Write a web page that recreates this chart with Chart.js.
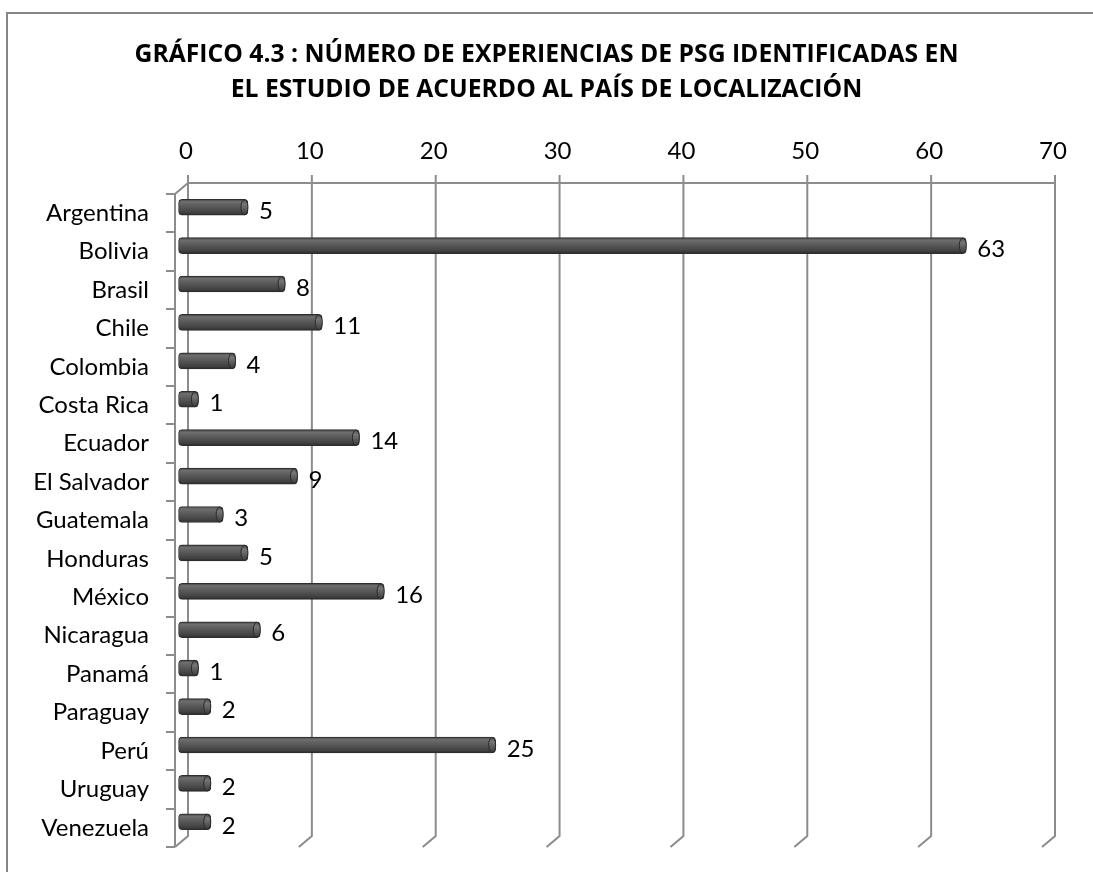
<!DOCTYPE html>
<html>
<head>
<meta charset="utf-8">
<script src="https://cdn.jsdelivr.net/npm/chart.js@4.4.1/dist/chart.umd.min.js"></script>
<style>
  html, body { margin: 0; padding: 0; background: #ffffff; }
  #wrap { width: 1093px; height: 872px; }
</style>
</head>
<body>
<div id="wrap"><canvas id="c" width="1093" height="872"></canvas></div>
<script>
// ---- data ----
const categories = ['Argentina', 'Bolivia', 'Brasil', 'Chile', 'Colombia', 'Costa Rica', 'Ecuador',
  'El Salvador', 'Guatemala', 'Honduras', 'México', 'Nicaragua', 'Panamá', 'Paraguay', 'Perú',
  'Uruguay', 'Venezuela'];
const experiencias = [5, 63, 8, 11, 4, 1, 14, 9, 3, 5, 16, 6, 1, 2, 25, 2, 2];
const xTickValues = [0, 10, 20, 30, 40, 50, 60, 70];
const titleLines = ['GRÁFICO 4.3 : NÚMERO DE EXPERIENCIAS DE PSG IDENTIFICADAS EN',
  'EL ESTUDIO DE ACUERDO AL PAÍS DE LOCALIZACIÓN'];

// ---- style ----
const FONT = 'Lato, "Noto Sans", sans-serif';
const TITLE_FONT = '"Open Sans", "Noto Sans", sans-serif';
const LABEL_SIZE = 24;
const GRID = '#8c8c8c';
const DX = 13, DY = 11;       // 3D depth offset (back wall vs front)
const BAR_SHIFT = -6;         // bars sit slightly above band centre
const TITLE_PAD = 37, TITLE_LH = 35;

function barGradient(ctx) {
  const chart = ctx.chart;
  const ys = chart.scales.y;
  if (!ys || ctx.dataIndex === undefined) return '#555555';
  const y = ys.getPixelForValue(ctx.dataIndex);
  if (!isFinite(y)) return '#555555';
  const g = chart.ctx.createLinearGradient(0, y - 8, 0, y + 8);
  g.addColorStop(0, '#3a3a3a');
  g.addColorStop(0.15, '#6e6e6e');
  g.addColorStop(0.45, '#5a5a5a');
  g.addColorStop(0.85, '#404040');
  g.addColorStop(1, '#282828');
  return g;
}

const frame3d = {
  id: 'frame3d',
  beforeDraw(chart) {
    const c = chart.ctx;
    c.save();
    c.fillStyle = '#ffffff';
    c.fillRect(0, 0, chart.width, chart.height);
    c.strokeStyle = '#868686';
    c.lineWidth = 2;
    c.beginPath();
    c.moveTo(7, chart.height);
    c.lineTo(7, 13);
    c.lineTo(chart.width, 13);
    c.stroke();
    c.restore();
  },
  beforeDatasetsDraw(chart) {
    const c = chart.ctx;
    const a = chart.chartArea;
    const xs = chart.scales.x;
    const backTop = a.top - DY, backBottom = a.bottom - DY;
    const frontX = a.left - DX + 2;
    c.save();
    c.strokeStyle = GRID;
    c.lineWidth = 2;
    c.beginPath();
    xTickValues.forEach(v => {
      const gx = xs.getPixelForValue(v) + 2;
      c.moveTo(gx, backTop - 8);
      c.lineTo(gx, backBottom);
      c.lineTo(gx - DX, backBottom + DY);
    });
    c.moveTo(xs.getPixelForValue(xTickValues[0]) + 2, backTop);
    c.lineTo(xs.getPixelForValue(xTickValues[xTickValues.length - 1]) + 2, backTop);
    c.moveTo(xs.getPixelForValue(0) + 2, backTop);
    c.lineTo(frontX, a.top);
    c.lineTo(frontX, a.bottom);
    const n = categories.length;
    const band = (a.bottom - a.top) / n;
    for (let i = 0; i <= n; i++) {
      const ty = Math.round(a.top + i * band);
      c.moveTo(frontX - 9, ty);
      c.lineTo(frontX, ty);
    }
    c.stroke();
    c.restore();
    c.save();
    c.translate(0, BAR_SHIFT);
  },
  afterDatasetsDraw(chart) {
    const c = chart.ctx;
    const meta = chart.getDatasetMeta(0);
    meta.data.forEach(el => {
      if (!isFinite(el.x) || !isFinite(el.y)) return;
      const g = c.createLinearGradient(0, el.y - 8, 0, el.y + 8);
      g.addColorStop(0, '#4a4a4a');
      g.addColorStop(0.3, '#777777');
      g.addColorStop(1, '#383838');
      c.beginPath();
      c.ellipse(el.x - 3.5, el.y, 3.5, 7.5, 0, 0, Math.PI * 2);
      c.fillStyle = g;
      c.fill();
      c.strokeStyle = '#2a2a2a';
      c.lineWidth = 1;
      c.stroke();
    });
    c.restore();
    c.save();
    c.font = LABEL_SIZE + 'px ' + FONT;
    c.fillStyle = '#000000';
    c.textAlign = 'left';
    c.textBaseline = 'middle';
    meta.data.forEach((el, i) => {
      c.fillText(String(experiencias[i]), el.x + 11, el.y - 2);
    });
    c.restore();
  }
};

new Chart(document.getElementById('c'), {
  type: 'bar',
  data: {
    labels: categories,
    datasets: [{
      data: experiencias,
      yAxisID: 'y',
      base: -0.6,
      clip: false,
      barThickness: 16,
      backgroundColor: barGradient,
      borderColor: '#2e2e2e',
      borderWidth: 1,
      borderSkipped: false,
      borderRadius: 4
    }]
  },
  options: {
    indexAxis: 'y',
    responsive: false,
    animation: false,
    devicePixelRatio: 1,
    layout: { padding: { top: 0, left: 0, right: 0, bottom: 25 } },
    plugins: {
      legend: { display: false },
      tooltip: { enabled: false },
      title: {
        display: true,
        text: titleLines,
        color: '#000000',
        font: { family: TITLE_FONT, size: 24.7, weight: 'bold', lineHeight: TITLE_LH / 24.7 },
        padding: { top: TITLE_PAD, bottom: 0 }
      }
    },
    scales: {
      x: {
        position: 'top',
        min: 0,
        max: 70,
        afterBuildTicks(scale) { scale.ticks = xTickValues.map(v => ({ value: v })); },
        afterFit(scale) { scale.height = 194 - TITLE_PAD - 2 * TITLE_LH; scale.paddingLeft = 0; scale.paddingRight = 0; },
        grid: { display: false, drawTicks: false },
        border: { display: false },
        ticks: { color: '#000000', font: { family: FONT, size: LABEL_SIZE }, padding: 28, maxRotation: 0 }
      },
      y: {
        position: 'left',
        afterFit(scale) { scale.width = 186; scale.paddingTop = 0; scale.paddingBottom = 0; },
        grid: { display: false, drawTicks: false },
        border: { display: false },
        ticks: { color: '#000000', font: { family: FONT, size: LABEL_SIZE }, padding: 37 }
      },
      yRight: {
        axis: 'y',
        type: 'category',
        position: 'right',
        afterFit(scale) { scale.width = 40; scale.paddingTop = 0; scale.paddingBottom = 0; },
        grid: { display: false, drawTicks: false },
        border: { display: false },
        ticks: { display: false }
      }
    }
  },
  plugins: [frame3d]
});
</script>
</body>
</html>
